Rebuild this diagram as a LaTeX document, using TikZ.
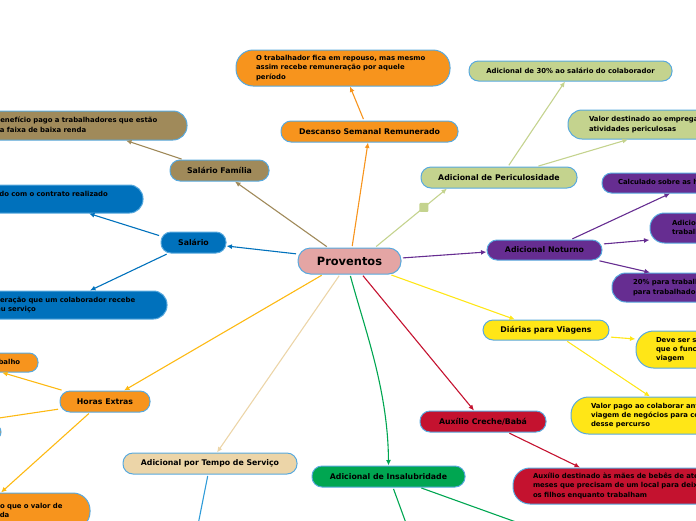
\documentclass[tikz,border=0pt]{standalone}
\usepackage{fontspec}
\setmainfont{DejaVu Sans}
\usetikzlibrary{arrows.meta,calc}
\definecolor{pinkc}{HTML}{E4A5A4}
\definecolor{orangec}{HTML}{F7941D}
\definecolor{khakic}{HTML}{A08A5A}
\definecolor{bluec}{HTML}{0071BC}
\definecolor{olivec}{HTML}{C4D38E}
\definecolor{purplec}{HTML}{662D91}
\definecolor{yellowc}{HTML}{FFE617}
\definecolor{redc}{HTML}{C4122F}
\definecolor{greenc}{HTML}{00A651}
\definecolor{wheatc}{HTML}{ECD5A8}
\definecolor{goldc}{HTML}{FDB913}
\definecolor{bordc}{HTML}{58A9DE}
\definecolor{lbluec}{HTML}{2E9BD8}
\newcommand\mlines[1]{\begin{tabular}{@{}l@{}}#1\end{tabular}}
\tikzset{
  base/.style={draw=bordc, line width=1pt, inner ysep=0pt, text=black},
  mainbox/.style={base, inner xsep=0pt, align=center, minimum height=21pt, rounded corners=10pt,
    font=\bfseries\fontsize{7.8}{9}\selectfont},
  leafbox/.style={base, inner xsep=20pt, align=left, rounded corners=10pt,
    font=\bfseries\fontsize{6.9}{9.3}\selectfont},
  leafc/.style={base, inner xsep=0pt, align=center, rounded corners=9.5pt,
    font=\bfseries\fontsize{6.9}{9.3}\selectfont},
  conn/.style={line width=1.1pt, shorten <=1.5pt, -{Latex[length=5.5pt,width=5pt]}},
  sq/.style={fill=olivec, draw=none, minimum size=9pt, inner sep=0pt, rounded corners=1pt},
}
\begin{document}
\begin{tikzpicture}[x=1pt,y=-1pt]
\useasboundingbox (0,0) rectangle (696,520);

% central
\node[base, fill=pinkc, minimum width=103pt, minimum height=26pt, inner xsep=0pt, rounded corners=12.5pt,
  font=\bfseries\fontsize{11.4}{13}\selectfont] (p) at (349.5,261) {Proventos};

% main branches
\node[mainbox, fill=orangec, minimum width=177pt] (desc) at (369.5,131.5) {Descanso Semanal Remunerado};
\node[mainbox, fill=khakic, minimum width=99pt] (fam) at (219.5,170.5) {Salário Família};
\node[mainbox, fill=bluec, minimum width=65pt] (sal) at (193.5,242.5) {Salário};
\node[mainbox, fill=orangec, minimum width=90pt] (horas) at (105,401.5) {Horas Extras};
\node[mainbox, fill=wheatc, minimum width=174pt] (tempo) at (210,463.5) {Adicional por Tempo de Serviço};
\node[mainbox, fill=greenc, minimum width=153pt] (ins) at (388.5,476.5) {Adicional de Insalubridade};
\node[mainbox, fill=redc, minimum width=126pt] (cre) at (483,421.5) {Auxílio Creche/Babá};
\node[mainbox, fill=yellowc, minimum width=126pt, minimum height=20pt] (dia) at (546,330) {Diárias para Viagens};
\node[mainbox, fill=purplec, minimum width=115pt, minimum height=20pt] (not) at (544.5,250) {Adicional Noturno};
\node[mainbox, fill=olivec, minimum width=156pt] (peri) at (499,177.5) {Adicional de Periculosidade};

% leaves
\node[leafbox, fill=orangec, text width=174pt, minimum height=36pt, rounded corners=17pt] (dchild) at (343,68)
  {\mlines{O trabalhador fica em repouso, mas mesmo\\assim recebe remuneração por aquele\\período}};
\node[leafbox, fill=khakic, text width=172pt, minimum height=29pt, rounded corners=14pt] (benef) at (81,125.5)
  {\mlines{Benefício pago a trabalhadores que estão\\na faixa de baixa renda}};
\node[leafbox, fill=bluec, text width=196.5pt, minimum height=28pt, rounded corners=13.5pt] (up) at (24.75,199)
  {\mlines{Valor pago de acordo com o contrato realizado\\com o colaborador}};
\node[leafbox, fill=bluec, text width=174pt, minimum height=28pt, rounded corners=13.5pt] (low) at (60,305)
  {\mlines{Remuneração que um colaborador recebe\\pelo seu serviço}};
\node[leafbox, fill=orangec, text width=152pt, minimum height=19pt, rounded corners=9pt] (tl) at (-58,362.5)
  {\mlines{Tempo excedente à jornada de trabalho}};
\node[base, fill=orangec, minimum width=162pt, minimum height=16pt, rounded corners=8pt, inner sep=0pt] (mid) at (-80,432) {};
\node[leafbox, fill=orangec, text width=152.7pt, minimum height=36pt, rounded corners=17pt] (bot) at (-6.35,511)
  {\mlines{Valor de 50\% maior do que o valor de\\hora normal trabalhada}};

\node[leafc, fill=olivec, minimum width=203pt, minimum height=20pt] (p30) at (570.5,71)
  {Adicional de 30\% ao salário do colaborador};
\node[leafbox, fill=olivec, inner xsep=21pt, text width=150pt, minimum height=29pt, rounded corners=14pt] (valor) at (664,124.5)
  {\mlines{Valor destinado ao empregado que exerce\\atividades periculosas}};
\node[leafbox, fill=purplec, inner xsep=16pt, text width=146pt, minimum height=20pt, rounded corners=9.5pt] (calc) at (691,183)
  {\mlines{Calculado sobre as horas trabalhadas à noite}};
\node[leafbox, fill=purplec, inner xsep=22pt, text width=106pt, minimum height=30pt, rounded corners=14.5pt] (adic) at (725,228)
  {\mlines{Adicional pago ao\\trabalhador noturno}};
\node[leafbox, fill=purplec, inner xsep=21pt, text width=146pt, minimum height=29pt, rounded corners=14pt] (tw) at (706,287.5)
  {\mlines{20\% para trabalhadores urbanos e 25\%\\para trabalhadores rurais}};
\node[leafbox, fill=yellowc, text width=124pt, minimum height=37pt, rounded corners=17.5pt] (deve) at (718,349.5)
  {\mlines{Deve ser solicitado antes\\que o funcionário faça a\\viagem}};
\node[leafbox, fill=yellowc, text width=189pt, minimum height=37pt, rounded corners=17.5pt] (vp) at (685.5,415.5)
  {\mlines{Valor pago ao colaborar antes de uma\\viagem de negócios para cobrir os gastos\\desse percurso}};
\node[leafbox, fill=redc, text width=247pt, minimum height=36pt, rounded corners=17pt] (aux) at (656.5,486)
  {\mlines{Auxílio destinado às mães de bebês de até 6\\meses que precisam de um local para deixar\\os filhos enquanto trabalham}};

\coordinate (ins1) at (414,545);
\coordinate (ins2) at (566,540);
\coordinate (tc) at (194,545);

% connectors from the centre
\draw[conn, orangec] ([xshift=2.5pt]p.north) -- ([xshift=-1.5pt]desc.south);
\draw[conn, khakic] ([xshift=-21.5pt]p.north) -- ([xshift=15.5pt]fam.south);
\draw[conn, bluec] ([yshift=7pt]p.west) -- ([yshift=-3.5pt]sal.east);
\draw[conn, olivec] ([xshift=25.5pt]p.north) -- node[sq, pos=0.68] {} ([xshift=-52pt]peri.south);
\draw[conn, purplec] ([yshift=3pt]p.east) -- ([yshift=-2pt]not.west);
\draw[conn, yellowc] ([xshift=40.5pt]p.south) -- ([xshift=-31pt]dia.north);
\draw[conn, redc] ([xshift=12.5pt]p.south) -- ([xshift=-9pt]cre.north);
\draw[conn, greenc] ([xshift=0.5pt]p.south) .. controls (365,330) and (388,390) .. (ins.north);
\draw[conn, wheatc] ([xshift=-9.5pt]p.south) -- ([xshift=7pt]tempo.north);
\draw[conn, goldc] ([xshift=-26.5pt]p.south) -- ([xshift=19pt]horas.north);

% second level
\draw[conn, orangec] ([xshift=-5.5pt]desc.north) -- ([xshift=7pt]dchild.south);
\draw[conn, khakic] ([xshift=-36.5pt]fam.north) -- ([xshift=45pt]benef.south);
\draw[conn, bluec] ([yshift=6.5pt]sal.west) -- ([xshift=64.25pt]up.south);
\draw[conn, bluec] ([xshift=-25.5pt]sal.south) -- ([xshift=30pt]low.north);
\draw[conn, goldc] ([xshift=-42pt]horas.north) -- ([xshift=60pt]tl.south);
\draw[conn, goldc] ([yshift=-7.5pt]horas.west) -- ([xshift=42pt]mid.north);
\draw[conn, goldc] ([xshift=-15pt]horas.south) -- ([xshift=7.35pt]bot.north);
\draw[conn, olivec] ([xshift=9pt]peri.north) -- ([xshift=-5.5pt]p30.south);
\draw[conn, olivec] ([xshift=38pt]peri.north) -- ([xshift=-36pt]valor.south);
\draw[conn, purplec] ([xshift=26.5pt]not.north) -- ([xshift=-21pt]calc.south);
\draw[conn, purplec] ([yshift=6pt]not.east) -- ([yshift=-12pt]adic.west);
\draw[conn, purplec] ([xshift=53.5pt]not.south) -- ([xshift=-56pt]tw.north);
\draw[conn, yellowc] ([yshift=-7pt]dia.east) -- ([yshift=10.5pt]deve.west);
\draw[conn, yellowc] ([xshift=20pt]dia.south) -- ([xshift=-35.5pt]vp.north);
\draw[conn, redc] ([xshift=25pt]cre.south) -- ([xshift=-76.5pt]aux.north);
\draw[conn, greenc] ([xshift=4.5pt]ins.south) -- (ins1);
\draw[conn, greenc] ([xshift=31.5pt]ins.south) -- (ins2);
\draw[conn, lbluec] ([xshift=-2pt]tempo.south) -- (tc);
\end{tikzpicture}
\end{document}
